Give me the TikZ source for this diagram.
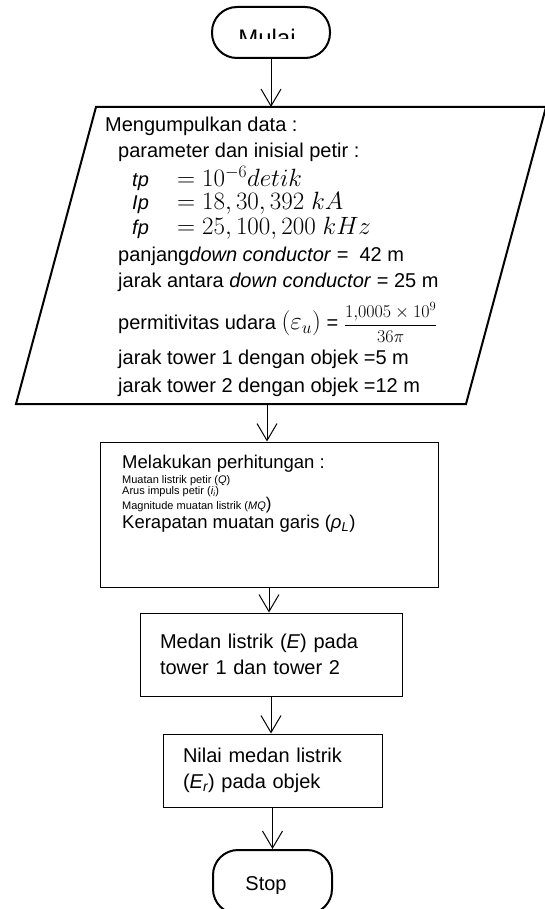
\RequirePackage{fix-cm}
\documentclass[tikz,border=0pt]{standalone}
\usepackage[no-math]{fontspec}
\setmainfont{Liberation Sans}
\usetikzlibrary{arrows.meta}

\newcommand{\mathbig}[1]{{\fontsize{25}{26}\selectfont$#1$}}
\newcommand{\fixlines}{\lineskiplimit -100pt\relax}
\newcommand{\smalltxt}{\fontsize{11}{10}\selectfont}

\begin{document}
\begin{tikzpicture}[x=1pt,y=-1pt,
      terminal/.style ={rectangle, draw, line width=2pt, rounded corners=25pt, inner sep=0pt, minimum width=118pt},
      io/.style ={draw, line width=2pt, line join=miter},
      process/.style ={rectangle, draw, line width=1pt, inner sep=0pt},
      big/.style ={font=\fontsize{20}{26}\selectfont\fixlines},
      arr/.style ={line width=1pt, -{Straight Barb[length=17pt, width=20pt]}}]
   \clip (0,0) rectangle (545,909);

   \node[terminal, minimum height=51pt] (start) at (271,32.5) {};
   \begin{scope}
      \clip (212,0) rectangle (330,38.5);
      \node[font=\fontsize{24}{28}\selectfont, anchor=base] (startlabel) at (267,47) {Mulai};
   \end{scope}

   \coordinate (dataBL) at (16,404);
   \coordinate (dataTL) at (96,107);
   \coordinate (dataTR) at (546,107);
   \coordinate (dataBR) at (466,404);
   \coordinate (datain) at (271,107);
   \coordinate (dataout) at (267,404);
   \draw[io] (dataBL) -- (dataTL) -- (dataTR) -- (dataBR) -- cycle;
   \node[big, anchor=north west, align=left, inner sep=0pt] (datatext) at (105,117) {%
      Mengumpulkan data :\\
      \hspace*{13pt}parameter dan inisial petir :\\[3pt]
      \hspace*{27pt}\makebox[45pt][l]{\textit{tp}}\mathbig{=10^{-6}detik}\\[-3pt]
      \hspace*{27pt}\makebox[45pt][l]{\textit{Ip}}\mathbig{=18, 30, 392\ kA}\\[-1pt]
      \hspace*{27pt}\makebox[45pt][l]{\textit{fp}}\mathbig{=25, 100, 200\ kHz}\\[1pt]
      \hspace*{13pt}panjang\textit{down conductor} = \ 42 m\\
      \hspace*{13pt}jarak antara \textit{down conductor} = 25 m\\[16pt]
      \hspace*{13pt}permitivitas udara \mathbig{(\varepsilon_u)} = {\fontsize{18}{20}\selectfont$\displaystyle\frac{1{,}0005\times10^9}{36\pi}$}\\[9pt]
      \hspace*{13pt}jarak tower 1 dengan objek =5 m\\[2pt]
      \hspace*{13pt}jarak tower 2 dengan objek =12 m};

   \node[process, minimum width=338pt, minimum height=145pt] (calc) at (269,514.5) {};
   \node[anchor=north west, align=left, inner sep=0pt, font=\fontsize{18}{10}\selectfont\fixlines] (calctext) at (122,455) {%
      {\fontsize{18.5}{10}\selectfont Melakukan perhitungan :}\\[5pt]
      {\smalltxt Muatan listrik petir (\textit{Q})}\\[1pt]
      {\smalltxt Arus impuls petir (\textit{i\textsubscript{i}})}\\[5pt]
      {\smalltxt Magnitude muatan listrik (\textit{MQ}}{\fontsize{17}{10}\selectfont)}\\[9pt]
      {\fontsize{18.5}{10}\selectfont Kerapatan muatan garis (\textit{ρ\textsubscript{L}})}};

   \node[process, big, minimum width=262pt, minimum height=83pt, text width=222pt, align=left] (field) at (271,654.5)
      {Medan listrik (\textit{E}) pada\\tower 1 dan tower 2};
   \node[process, big, minimum width=219pt, minimum height=73pt, text width=179pt, align=left] (object) at (272.5,770.5)
      {Nilai medan listrik\\(\textit{E\textsubscript{r}}) pada objek};

   \node[terminal, minimum width=119pt, minimum height=64pt] (stop) at (272.5,882) {};
   \begin{scope}
      \clip (213,850) rectangle (332,893);
      \node[big, anchor=base] (stoplabel) at (266,890) {Stop};
   \end{scope}

   \draw[arr] (start) -- (datain);
   \draw[arr] (dataout) -- (dataout |- calc.north);
   \draw[arr] (calc) -- (calc.south |- field.north);
   \draw[arr] (field) -- (field.south |- object.north);
   \draw[arr] (object) -- (object.south |- stop.north);
\end{tikzpicture}
\end{document}
